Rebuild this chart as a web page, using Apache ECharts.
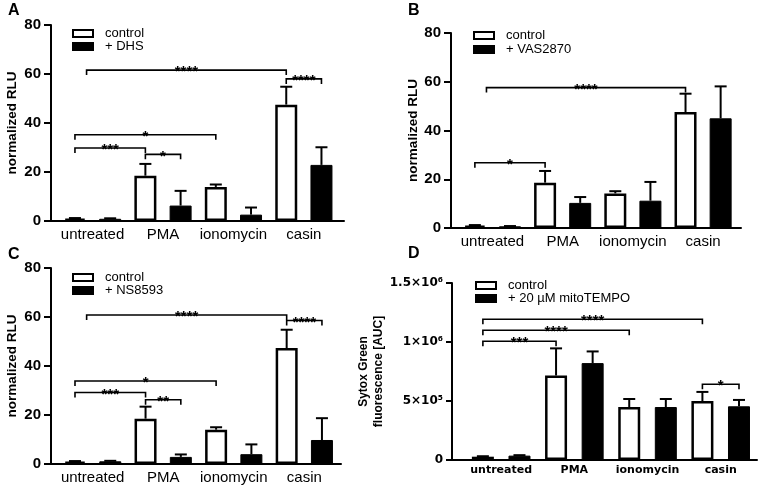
<!DOCTYPE html>
<html><head><meta charset="utf-8">
<script src="https://cdn.jsdelivr.net/npm/echarts@6/dist/echarts.min.js"></script>
<style>html,body{margin:0;padding:0;background:#fff}#c{width:765px;height:492px}</style>
</head><body><div id="c"></div><script>
const categories = ['untreated', 'PMA', 'ionomycin', 'casin'];

// Panel A: control vs + DHS (normalized RLU)
const aControl = [1.0, 18.5, 13.9, 47.5];
const aControlErr = [0.2, 4.8, 1.0, 7.3];
const aDHS = [0.9, 6.3, 2.6, 22.9];
const aDHSErr = [0.2, 6.0, 2.9, 7.2];
const aBrackets = [[0.33, 6, 61.6, '****'], [6, 7, 58.0, '****'], [0, 4, 35.2, '*'], [0, 2, 29.8, '***'], [2, 3, 27.2, '*']];

// Panel B: control vs + VAS2870
const bControl = [1.0, 18.6, 14.2, 47.6];
const bControlErr = [0.2, 4.8, 0.9, 7.5];
const bVAS = [0.7, 10.3, 11.2, 45.0];
const bVASErr = [0.1, 2.4, 7.7, 13.1];
const bBrackets = [[0, 2, 26.8, '*'], [0.33, 6, 57.6, '****']];

// Panel C: control vs + NS8593
const cControl = [1.0, 18.5, 14.0, 47.3];
const cControlErr = [0.2, 4.9, 1.0, 7.5];
const cNS = [1.1, 2.9, 4.0, 9.8];
const cNSErr = [0.2, 1.0, 4.0, 8.9];
const cBrackets = [[0.33, 6, 60.8, '****'], [6, 7, 58.6, '****'], [0, 4, 33.9, '*'], [0, 2, 29.2, '***'], [2, 3, 26.2, '**']];

// Panel D: Sytox Green fluorescence [AUC], control vs + 20 µM mitoTEMPO
const dControl = [28000, 716000, 449000, 500000];
const dControlErr = [4000, 230000, 68000, 77000];
const dMito = [37000, 821000, 449000, 455000];
const dMitoErr = [4000, 99000, 68000, 54000];
const dBrackets = [[0, 2, 1006000, '***'], [0, 4, 1100000, '****'], [0, 6, 1193000, '****'], [6, 7, 642000, '*']];

const rluTicks = ['0', '20', '40', '60', '80'];
const aucTicks = ['0', '5×10⁵', '1×10⁶', '1.5×10⁶'];

const OFF = 0.25; // half-distance between paired bars, in category units
const ARIAL = 'Liberation Sans, Arial, sans-serif';
const DEJAVU = 'DejaVu Sans, sans-serif';

function barX(p) {
  const g = Math.floor((p + 0.5) / 2);
  const s = p - 2 * g;
  return g + (s - 0.5) * 2 * OFF;
}

const panels = [
  { letter: 'A', lx: 8, ly: 3, grid: { left: 51, top: 25, right: 421, bottom: 271 }, xMin: -0.59, xMax: 3.57,
    ctrl: aControl, ctrlErr: aControlErr, trt: aDHS, trtErr: aDHSErr, trtName: '+ DHS', brackets: aBrackets,
    legend: { left: 72, top: 27, gap: 0 }, yMax: 80, yInt: 20, ticks: rluTicks, yName: 'normalized RLU', nameGap: 31, d: false },
  { letter: 'B', lx: 408, ly: 3, grid: { left: 451, top: 33, right: 24, bottom: 264 }, xMin: -0.59, xMax: 3.54,
    ctrl: bControl, ctrlErr: bControlErr, trt: bVAS, trtErr: bVASErr, trtName: '+ VAS2870', brackets: bBrackets,
    legend: { left: 473, top: 29, gap: 1 }, yMax: 80, yInt: 20, ticks: rluTicks, yName: 'normalized RLU', nameGap: 29, d: false },
  { letter: 'C', lx: 8, ly: 247, grid: { left: 51, top: 268, right: 424, bottom: 28 }, xMin: -0.59, xMax: 3.52,
    ctrl: cControl, ctrlErr: cControlErr, trt: cNS, trtErr: cNSErr, trtName: '+ NS8593', brackets: cBrackets,
    legend: { left: 72, top: 271, gap: 0 }, yMax: 80, yInt: 20, ticks: rluTicks, yName: 'normalized RLU', nameGap: 31, d: false },
  { letter: 'D', lx: 408, ly: 246, grid: { left: 452, top: 283, right: 8, bottom: 32 }, xMin: -0.672, xMax: 3.496,
    ctrl: dControl, ctrlErr: dControlErr, trt: dMito, trtErr: dMitoErr, trtName: '+ 20 µM mitoTEMPO', brackets: dBrackets,
    legend: { left: 475, top: 279, gap: 0 }, yMax: 1500000, yInt: 500000, ticks: aucTicks, yName: 'Sytox Green\nfluorescence [AUC]', nameGap: 66, d: true }
];

const option = { animation: false, backgroundColor: '#fff', title: [], grid: [], xAxis: [], yAxis: [], legend: [], series: [] };

panels.forEach((P, i) => {
  option.title.push({ text: P.letter, left: P.lx, top: P.ly, padding: 0,
    textStyle: { fontFamily: ARIAL, fontWeight: 'bold', fontSize: 16, color: '#000' } });
  option.grid.push(Object.assign({ containLabel: false }, P.grid));
  option.xAxis.push({
    gridIndex: i, type: 'value', min: P.xMin, max: P.xMax,
    axisLine: { show: true, onZero: false, lineStyle: { color: '#000', width: 2 } },
    axisTick: { show: false }, splitLine: { show: false },
    axisLabel: { customValues: [0, 1, 2, 3], formatter: v => categories[Math.round(v)],
      color: '#000', margin: P.d ? 5 : 6,
      fontFamily: P.d ? DEJAVU : ARIAL, fontWeight: P.d ? 'bold' : 'normal', fontSize: P.d ? 11 : 15 }
  });
  option.yAxis.push({
    gridIndex: i, type: 'value', min: 0, max: P.yMax, interval: P.yInt,
    axisLine: { show: true, onZero: false, lineStyle: { color: '#000', width: 2 } },
    axisTick: { show: true, length: P.d ? 6 : 7, lineStyle: { color: '#000', width: 2 } },
    splitLine: { show: false },
    axisLabel: { formatter: v => P.ticks[Math.round(v / P.yInt)], color: '#000', margin: P.d ? 9 : 10,
      fontFamily: P.d ? DEJAVU : ARIAL, fontWeight: 'bold', fontSize: P.d ? 12 : 15 },
    name: P.yName, nameLocation: 'middle', nameGap: P.nameGap,
    nameTextStyle: { color: '#000', fontFamily: ARIAL, fontWeight: 'bold', fontSize: P.d ? 12 : 13.5, lineHeight: 15 }
  });
  option.legend.push({
    left: P.legend.left, top: P.legend.top, orient: 'vertical', padding: 0, itemGap: P.legend.gap,
    itemWidth: 20, itemHeight: 7, icon: 'rect', selectedMode: false,
    data: ['control', P.trtName],
    textStyle: { color: '#000', fontFamily: ARIAL, fontSize: 13, lineHeight: 11, padding: [0, 0, 0, 7] }
  });
  option.series.push({
    type: 'bar', name: 'control', xAxisIndex: i, yAxisIndex: i, barWidth: 22, barGap: '-100%',
    data: P.ctrl.map((v, g) => [g - OFF, v]), silent: true,
    itemStyle: { color: '#fff', borderColor: '#000', borderWidth: 2.5 }
  });
  option.series.push({
    type: 'bar', name: P.trtName, xAxisIndex: i, yAxisIndex: i, barWidth: 22, barGap: '-100%',
    data: P.trt.map((v, g) => [g + OFF, v]), silent: true,
    itemStyle: { color: '#000', borderColor: '#000', borderWidth: 1 }
  });
  const errData = P.ctrl.map((v, g) => [g - OFF, v, P.ctrlErr[g]]).concat(P.trt.map((v, g) => [g + OFF, v, P.trtErr[g]]));
  option.series.push({
    type: 'custom', xAxisIndex: i, yAxisIndex: i, silent: true, z: 5, data: errData,
    encode: { x: 0, y: 1 },
    renderItem: (params, api) => {
      const x = api.value(0), m = api.value(1), e = api.value(2);
      const p0 = api.coord([x, m]), p1 = api.coord([x, m + e]);
      return { type: 'group', children: [
        { type: 'line', shape: { x1: p0[0], y1: p0[1], x2: p1[0], y2: p1[1] }, style: { stroke: '#000', lineWidth: 2 } },
        { type: 'line', shape: { x1: p1[0] - 6, y1: p1[1], x2: p1[0] + 6, y2: p1[1] }, style: { stroke: '#000', lineWidth: 2 } }
      ] };
    }
  });
  const br = P.brackets;
  option.series.push({
    type: 'custom', xAxisIndex: i, yAxisIndex: i, silent: true, z: 6,
    data: br.map(b => [barX(b[0]), b[2], barX(b[1])]),
    encode: { x: 0, y: 1 },
    renderItem: (params, api) => {
      const y = api.value(1);
      const p1 = api.coord([api.value(0), y]), p2 = api.coord([api.value(2), y]);
      const T = 5;
      return { type: 'group', children: [
        { type: 'polyline', shape: { points: [[p1[0], p1[1] + T], [p1[0], p1[1]], [p2[0], p2[1]], [p2[0], p2[1] + T]] },
          style: { stroke: '#000', lineWidth: 1.6, fill: null } },
        { type: 'text', x: (p1[0] + p2[0]) / 2, y: p1[1] + 2,
          style: { text: br[params.dataIndex][3], align: 'center', verticalAlign: 'middle',
            fontSize: 15, fontWeight: 'bold', fontFamily: ARIAL, fill: '#000' } }
      ] };
    }
  });
});

const chart = echarts.init(document.getElementById('c'), null, { renderer: 'canvas' });
chart.setOption(option);
</script></body></html>
